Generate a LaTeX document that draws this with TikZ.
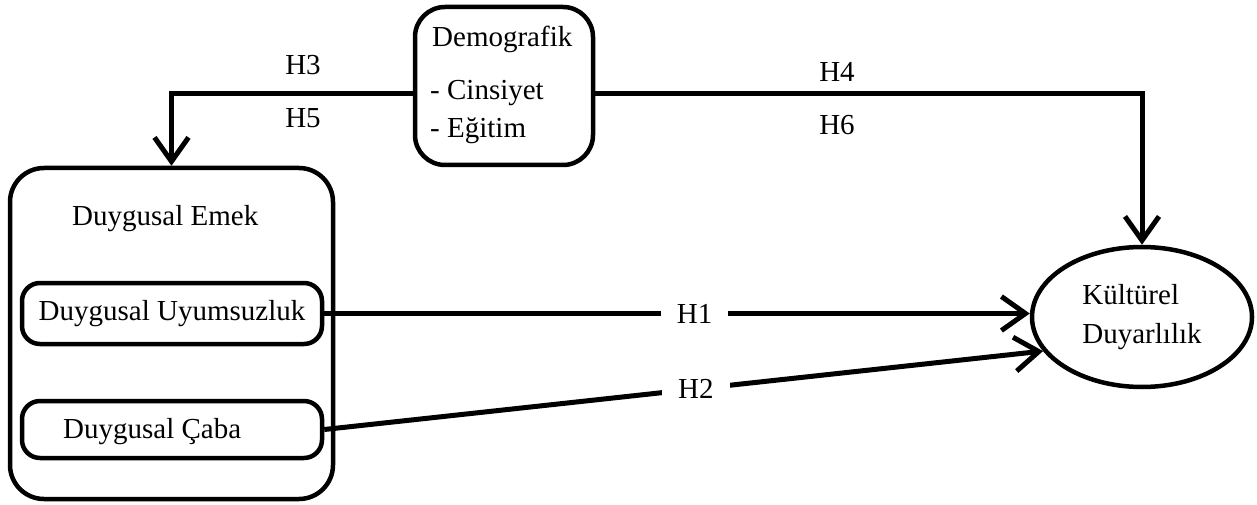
\documentclass[tikz,border=0pt]{standalone}
\usepackage{fontspec}
\setmainfont{Liberation Serif}
\usetikzlibrary{arrows.meta,shapes.geometric}
\begin{document}
\begin{tikzpicture}[x=1pt,y=-1pt,
  every node/.style={font=\fontsize{29}{39}\selectfont, inner sep=0pt},
  frame/.style={draw, line width=4.5pt, rounded corners=#1},
  frame/.default=26pt,
  link/.style={draw, line width=5pt, -{Straight Barb[length=24pt,width=34pt]}},
  gap/.style={fill=white, inner xsep=16pt, inner ysep=6pt},
  tag/.style={anchor=base}]
\useasboundingbox (0,0) rectangle (1257,505);

% demographic variables
\node[frame=30pt, minimum width=178pt, minimum height=158pt] (dem) at (504,86) {};
\node[anchor=base west] (demT) at (432,47) {Demografik};
\node[anchor=base west] (cins) at (430,100) {- Cinsiyet};
\node[anchor=base west] (egit) at (430,138) {- Eğitim};

% emotional labour with its two dimensions
\node[frame=34pt, minimum width=323pt, minimum height=331pt] (emek) at (171.5,333.5) {};
\node[anchor=base west] (emekT) at (72,225) {Duygusal Emek};
\node[frame=18pt, minimum width=300pt, minimum height=61pt] (uyum) at (172,313.5) {Duygusal Uyumsuzluk};
\node[frame=18pt, minimum width=300pt, minimum height=57pt] (caba) at (172,429.5) {};
\node[anchor=base west] (cabaT) at (63,438) {Duygusal Çaba};

% cultural sensitivity
\node[draw, ellipse, line width=4.5pt, minimum width=220pt, minimum height=140pt, align=left] (kd) at (1142,317) {Kültürel\\Duyarlılık};

% hypotheses
\draw[link] ([yshift=-8pt]dem.west) -| (emek.north);
\draw[link] ([yshift=-8pt]dem.east) -| (kd.north);
\draw[link] (uyum.east) -- node[pos=0.525, gap] (h1) {H1} (uyum.east -| kd.west);
\draw[link] (caba.east) -- node[pos=0.517, gap] (h2) {H2} (kd.199);

\node[tag] (h3) at (303,75) {H3};
\node[tag] (h5) at (303,128) {H5};
\node[tag] (h4) at (837,82) {H4};
\node[tag] (h6) at (837,135) {H6};
\end{tikzpicture}
\end{document}
